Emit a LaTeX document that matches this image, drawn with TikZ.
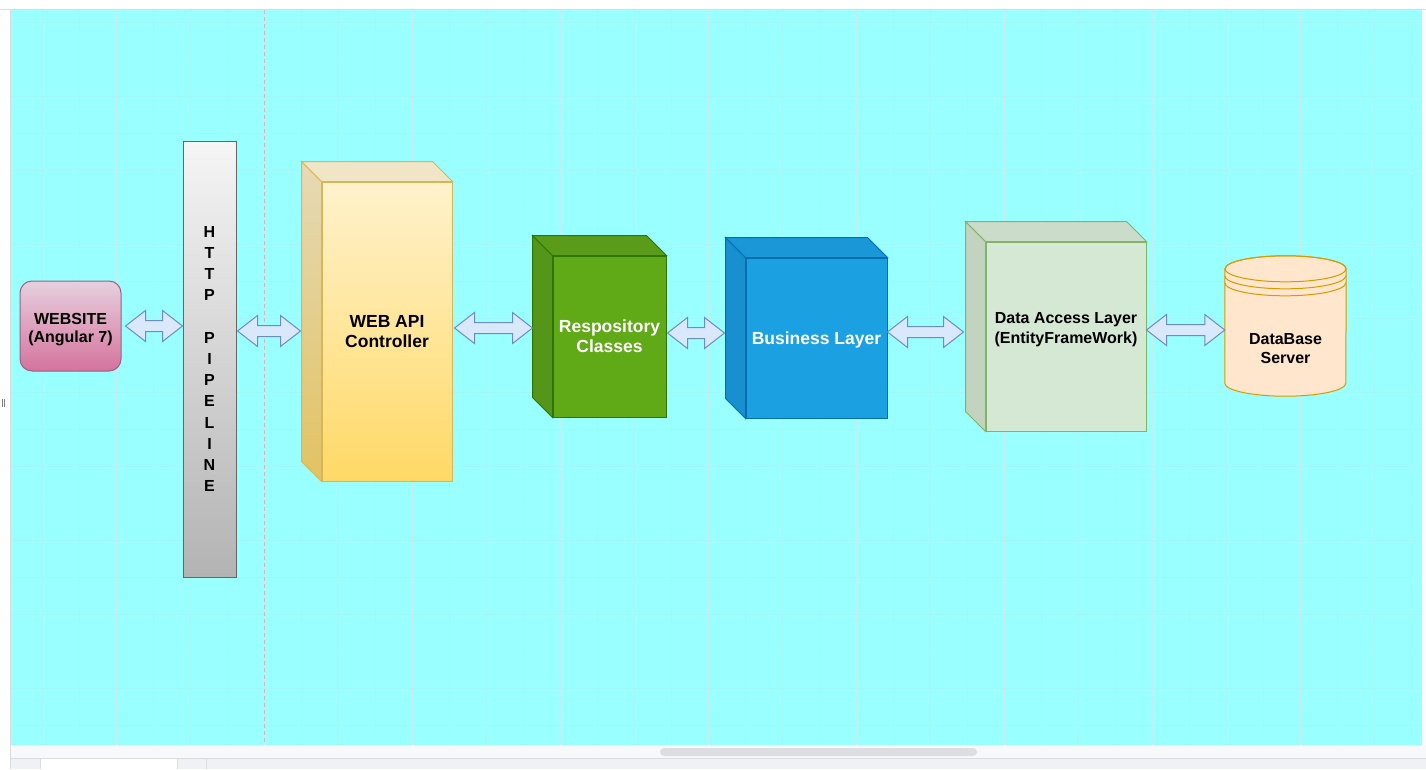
\documentclass[tikz,border=0pt]{standalone}
\usepackage{fontspec}
\setmainfont{Liberation Sans}
\usetikzlibrary{calc}
\definecolor{bgcyan}{HTML}{99FFFF}
\definecolor{gridmin}{HTML}{A0F8F8}
\definecolor{gridmaj}{HTML}{C6EDED}
\definecolor{pagebrk}{HTML}{D9B3BC}
\definecolor{uiline}{HTML}{DADCE0}
\definecolor{uibar}{HTML}{F7F8FA}
\definecolor{uitabs}{HTML}{F0F1F4}
\definecolor{uithumb}{HTML}{DDDEE1}
\definecolor{webtop}{HTML}{E6D0DE}
\definecolor{webbot}{HTML}{D5739D}
\definecolor{webdraw}{HTML}{996185}
\definecolor{httptop}{HTML}{F5F5F5}
\definecolor{httpbot}{HTML}{B3B3B3}
\definecolor{httpdraw}{HTML}{666666}
\definecolor{apitop}{HTML}{FFF2CC}
\definecolor{apibot}{HTML}{FFD966}
\definecolor{apidraw}{HTML}{D6B656}
\definecolor{apisidetop}{HTML}{E6DAB6}
\definecolor{apisidebot}{HTML}{E2C262}
\definecolor{apilid}{HTML}{F0E5C6}
\definecolor{repofill}{HTML}{60A917}
\definecolor{repodraw}{HTML}{2D7600}
\definecolor{reposide}{HTML}{55961A}
\definecolor{repolid}{HTML}{5A9C19}
\definecolor{busfill}{HTML}{1BA1E2}
\definecolor{busdraw}{HTML}{006EAF}
\definecolor{busside}{HTML}{188FCF}
\definecolor{buslid}{HTML}{1A97D6}
\definecolor{dalfill}{HTML}{D5E8D4}
\definecolor{daldraw}{HTML}{82B366}
\definecolor{dalside}{HTML}{C2D3C0}
\definecolor{dallid}{HTML}{CCDCCA}
\definecolor{dbfill}{HTML}{FFE6CC}
\definecolor{dbdraw}{HTML}{D79B00}
\definecolor{arrfill}{HTML}{DAE8FC}
\definecolor{arrdraw}{HTML}{6C8EBF}

\newcommand\cubefaces[3]{%
  \path[#2] (#1.north west) -- ++(-20,-20) -- ($(#1.south west)+(-20,-20)$) -- (#1.south west) -- cycle;
  \path[#3] (#1.north west) -- ++(-20,-20) -- ($(#1.north east)+(-20,-20)$) -- (#1.north east) -- cycle;
}
\newcommand\dblarrow[2]{%
  \draw[blockarr] let \p1=(#1), \p2=(#2) in
   (\x1,\y1) -- (\x1+20pt,\y1+15.5pt) -- (\x1+20pt,\y1+5.5pt) -- (\x2-20pt,\y1+5.5pt)
   -- (\x2-20pt,\y1+15.5pt) -- (\x2,\y1) -- (\x2-20pt,\y1-15.5pt) -- (\x2-20pt,\y1-5.5pt)
   -- (\x1+20pt,\y1-5.5pt) -- (\x1+20pt,\y1-15.5pt) -- cycle;
}
\newcommand\fbig{\fontsize{17.5}{20}\selectfont\bfseries}
\newcommand\fmid{\fontsize{16}{19}\selectfont\bfseries}

\tikzset{
  gridminor/.style={draw=gridmin, line width=1pt},
  gridmajor/.style={draw=gridmaj, line width=1pt},
  pagebreak/.style={draw=pagebrk, line width=1pt, dash pattern=on 4pt off 3pt},
  blockarr/.style={draw=arrdraw, fill=arrfill, line width=1pt, line join=miter},
  webnode/.style={draw=webdraw, top color=webtop, bottom color=webbot, rounded corners=12pt,
     line width=1pt, minimum width=101pt, minimum height=90pt, inner sep=0pt},
  httpnode/.style={draw=httpdraw, top color=httptop, bottom color=httpbot, line width=1pt,
     minimum width=53pt, minimum height=436pt, inner sep=0pt, align=center,
     font=\fontsize{16}{21.2}\selectfont\bfseries},
  cubefront/.style={line width=1pt, inner sep=2pt, align=center, font=\fbig},
  lbl/.style={inner sep=0pt, align=center, font=\fmid, text=black},
}

\begin{document}
\begin{tikzpicture}[x=1pt,y=-1pt]
\useasboundingbox (0,0) rectangle (1426,769);
\fill[white] (0,0) rectangle (1426,769);
% canvas
\fill[bgcyan] (11,10) rectangle (1422,745);
\foreach \x in {42,79,...,1420} \draw[gridminor] (\x,10) -- (\x,745);
\foreach \y in {22,59,...,745} \draw[gridminor] (11,\y) -- (1422,\y);
\foreach \x in {116,264,...,1420} \draw[gridmajor] (\x,10) -- (\x,745);
\foreach \y in {59,207,...,745} \draw[gridmajor] (11,\y) -- (1422,\y);
\draw[pagebreak] (264,10) -- (264,745);
% window chrome
\draw[uiline, line width=1pt] (0,9.5) -- (1426,9.5);
\draw[uiline, line width=1pt] (10.5,9.5) -- (10.5,769);
\fill[uibar!60!white] (1422,10) rectangle (1426,745);
\fill[uibar] (11,745) rectangle (1426,758);
\fill[uithumb, rounded corners=4pt] (660,748) rectangle (977,756);
\fill[uitabs] (11,758) rectangle (1426,769);
\draw[uiline, line width=1pt] (11,758.5) -- (1426,758.5);
\fill[white] (40,759) rectangle (177,769);
\draw[uiline, line width=1pt] (40,759) -- (40,769) (177,759) -- (177,769) (206,759) -- (206,769);
\draw[gray, line width=0.7pt] (2.5,399) -- (2.5,407) (4.5,399) -- (4.5,407);

% nodes
\node[webnode] (web) at (70.5,326) {};
\node[lbl, font=\fontsize{16}{18}\selectfont\bfseries] (webtext) at ([yshift=-3.5pt]web.center) {WEBSITE\\(Angular 7)};
\node[httpnode] (http) at (209.5,359) {H\\T\\T\\P\\\mbox{}\\P\\I\\P\\E\\L\\I\\N\\E};

\node[cubefront, draw=apidraw, top color=apitop, bottom color=apibot,
      minimum width=130pt, minimum height=299pt] (api) at (387,331.5) {WEB API\\Controller};
\cubefaces{api}{draw=apidraw, line width=1pt, top color=apisidetop, bottom color=apisidebot}{draw=apidraw, line width=1pt, fill=apilid}

\node[cubefront, draw=repodraw, fill=repofill, text=white,
      minimum width=113pt, minimum height=161pt] (repo) at (609.5,336.5) {Respository\\Classes};
\cubefaces{repo}{draw=repodraw, line width=1pt, fill=reposide}{draw=repodraw, line width=1pt, fill=repolid}

\node[cubefront, draw=busdraw, fill=busfill,
      minimum width=141pt, minimum height=160pt] (bus) at (816.5,338) {};
\cubefaces{bus}{draw=busdraw, line width=1pt, fill=busside}{draw=busdraw, line width=1pt, fill=buslid}
\node[lbl, font=\fbig, text=white] (bustext) at ([yshift=-1.5pt]bus.center) {Business Layer};

\node[cubefront, draw=daldraw, fill=dalfill,
      minimum width=160pt, minimum height=189pt] (dal) at (1066,336.5) {};
\cubefaces{dal}{draw=daldraw, line width=1pt, fill=dalside}{draw=daldraw, line width=1pt, fill=dallid}
\node[lbl, font=\fontsize{16}{20}\selectfont\bfseries] (daltext) at ([yshift=6.5pt]dal.center) {Data Access Layer\\(EntityFrameWork)};

% database cylinder
\node[minimum width=121pt, minimum height=140pt, inner sep=0pt] (db) at (1285.5,326) {};
\path[fill=dbfill, draw=dbdraw, line width=1pt]
  ($(db.north west)+(0,13)$) -- ($(db.south west)+(0,-13)$)
  arc[start angle=180, end angle=360, x radius=60.5pt, y radius=13pt]
  -- ($(db.north east)+(0,13)$)
  arc[start angle=0, end angle=180, x radius=60.5pt, y radius=13pt] -- cycle;
\draw[dbdraw, line width=1pt] ($(db.north)+(0,13)$) ellipse [x radius=60.5pt, y radius=13pt];
\draw[dbdraw, line width=1pt] ($(db.north west)+(0,20)$) arc[start angle=180, end angle=360, x radius=60.5pt, y radius=13pt];
\draw[dbdraw, line width=1pt] ($(db.north west)+(0,27)$) arc[start angle=180, end angle=360, x radius=60.5pt, y radius=13pt];
\node[lbl] (dbtext) at ([yshift=-23pt]db.center) {DataBase\\Server};

% connectors
\dblarrow{[xshift=4pt]web.east}{http.west}
\dblarrow{[shift={(1,-28)}]http.east}{[xshift=-21pt]api.west}
\dblarrow{[shift={(2,-3.5)}]api.east}{[xshift=-20pt]repo.west}
\dblarrow{[shift={(1,-3.5)}]repo.east}{[xshift=-21pt]bus.west}
\dblarrow{[shift={(0,-6)}]bus.east}{[xshift=-22pt]dal.west}
\dblarrow{[shift={(0,-6.5)}]dal.east}{db.west}
\end{tikzpicture}
\end{document}
